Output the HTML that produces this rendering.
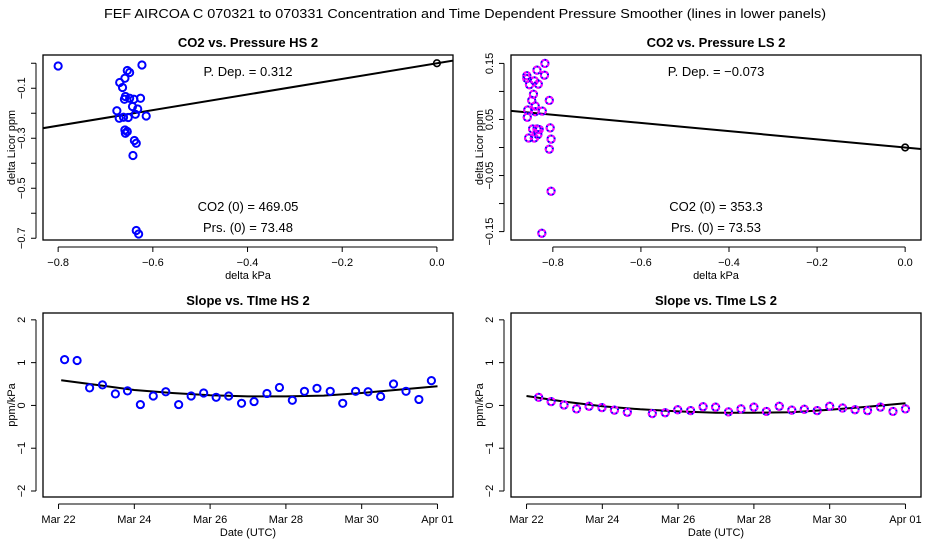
<!DOCTYPE html>
<html><head><meta charset="utf-8"><style>
body{margin:0;background:#fff}
svg{display:block;font-family:"Liberation Sans",Arial,sans-serif}
</style></head><body>
<svg id="c" width="936" height="540" viewBox="0 0 936 540">
<rect width="936" height="540" fill="#fff"/>
<text x="465" y="18" font-size="13" text-anchor="middle" textLength="722" lengthAdjust="spacingAndGlyphs">FEF   AIRCOA C   070321 to 070331   Concentration and Time Dependent Pressure Smoother (lines in lower panels)</text>
</svg>
<script>
// ---- Data: top-left (HS pressure) ----
const hsKpa=[-0.80,-0.623,-0.654,-0.649,-0.659,-0.67,-0.664,-0.658,-0.66,-0.649,-0.64,-0.626,-0.643,-0.632,-0.676,-0.637,-0.614,-0.671,-0.662,-0.652,-0.659,-0.658,-0.654,-0.639,-0.635,-0.642,-0.635,-0.63];
const hsPpm=[-0.011,-0.007,-0.029,-0.037,-0.06,-0.077,-0.097,-0.133,-0.144,-0.14,-0.144,-0.14,-0.173,-0.183,-0.19,-0.204,-0.211,-0.22,-0.216,-0.217,-0.267,-0.28,-0.273,-0.309,-0.32,-0.369,-0.669,-0.683];
const hsSlopeFit=0.312;
// ---- Data: top-right (LS pressure) ----
const lsKpa=[-0.818,-0.836,-0.819,-0.859,-0.859,-0.842,-0.853,-0.833,-0.844,-0.848,-0.808,-0.84,-0.857,-0.84,-0.824,-0.858,-0.846,-0.836,-0.831,-0.806,-0.834,-0.855,-0.842,-0.804,-0.808,-0.804,-0.825];
const lsPpm=[0.15,0.138,0.129,0.128,0.123,0.119,0.112,0.113,0.095,0.084,0.084,0.074,0.067,0.064,0.065,0.054,0.033,0.033,0.032,0.035,0.023,0.017,0.017,0.015,-0.003,-0.078,-0.153];
const lsSlopeFit=-0.073;
// ---- Data: bottom-left (HS slope vs time, days since Mar 22) ----
const hsDay=[0.16,0.49,0.82,1.16,1.5,1.82,2.16,2.5,2.83,3.17,3.5,3.83,4.16,4.49,4.83,5.16,5.5,5.83,6.17,6.49,6.82,7.17,7.5,7.84,8.17,8.5,8.84,9.17,9.51,9.84];
const hsSlope=[1.07,1.05,0.41,0.48,0.27,0.34,0.02,0.22,0.32,0.02,0.22,0.29,0.19,0.22,0.05,0.09,0.28,0.42,0.12,0.33,0.4,0.33,0.05,0.33,0.32,0.21,0.5,0.33,0.14,0.58];
const hsSmDay=[0.07,1,2,3,4,5,6,7,8,9,10];
const hsSmVal=[0.59,0.48,0.36,0.29,0.24,0.21,0.21,0.23,0.29,0.37,0.45];
// ---- Data: bottom-right (LS slope vs time) ----
const lsDay=[0.32,0.65,0.99,1.32,1.65,1.99,2.32,2.66,3.32,3.66,3.99,4.33,4.66,4.99,5.33,5.66,6.0,6.33,6.67,7.0,7.33,7.67,8.0,8.34,8.67,9.0,9.34,9.67,10.0];
const lsSlope=[0.19,0.09,0.01,-0.08,-0.02,-0.05,-0.11,-0.16,-0.19,-0.17,-0.1,-0.12,-0.03,-0.04,-0.15,-0.08,-0.04,-0.14,-0.02,-0.11,-0.09,-0.12,-0.02,-0.06,-0.1,-0.12,-0.04,-0.14,-0.08];
const lsSmDay=[0,1,2,3,4,5,6,7,8,9,10];
const lsSmVal=[0.22,0.09,-0.02,-0.09,-0.14,-0.17,-0.17,-0.16,-0.1,-0.03,0.05];
const dateLabels=["Mar 22","Mar 24","Mar 26","Mar 28","Mar 30","Apr 01"];

const svg=document.getElementById('c');
const NS='http://www.w3.org/2000/svg';
function mk(tag,at,parent){const e=document.createElementNS(NS,tag);for(const k in at)e.setAttribute(k,at[k]);(parent||svg).appendChild(e);return e;}
function txt(x,y,s,size,extra,parent){const t=mk('text',Object.assign({x:x,y:y,'font-size':size,'text-anchor':'middle'},extra||{}),parent);t.textContent=s;return t;}

function panel(o){
  const g=mk('g',{});
  
  
  const L=43+o.dx,R=453+o.dx,T=o.top,B=o.bot;
  const sx=v=>L+(v-o.xmin)/(o.xmax-o.xmin)*(R-L);
  const sy=v=>B-(v-o.ymin)/(o.ymax-o.ymin)*(B-T);
  const box=mk('rect',{x:L,y:T,width:R-L,height:B-T,fill:'none',stroke:'#000','stroke-width':1.3},g);
  
  
  const tt=txt((L+R)/2,T-8,o.title,13,{'font-weight':'bold'},g);
  
  
  // x axis
  const xa=o.xticks.map(sx);
  mk('line',{x1:xa[0],x2:xa[xa.length-1],y1:B+7,y2:B+7,stroke:'#000'},g);
  o.xticks.forEach((v,i)=>{const x=sx(v);mk('line',{x1:x,x2:x,y1:B+7,y2:B+12,stroke:'#000'},g);
    const t=txt(x,B+26,o.xlabels[i],11,{},g);
    
    });
  const xl=txt((L+R)/2,B+39,o.xtitle,11,{},g);
  
  
  // y axis
  const ya=o.yticks.map(sy);
  mk('line',{x1:L-7,x2:L-7,y1:ya[0],y2:ya[ya.length-1],stroke:'#000'},g);
  o.yticks.forEach((v,i)=>{const y=sy(v);mk('line',{x1:L-12,x2:L-7,y1:y,y2:y,stroke:'#000'},g);
    if(o.ylabels[i]!==''){const t=txt(0,0,o.ylabels[i],11,{transform:`translate(${L-18},${y}) rotate(-90)`},g);
    
    }});
  const yl=txt(0,0,o.ytitle,11,{transform:`translate(${L-32+4},${(T+B)/2}) rotate(-90)`},g);
  
  
  // clip
  const cid='clip'+o.name;
  const cp=mk('clipPath',{id:cid},g);mk('rect',{x:L,y:T,width:R-L,height:B-T},cp);
  const pg=mk('g',{'clip-path':`url(#${cid})`},g);
  // line
  if(o.lineX){
    const d=o.lineX.map((x,i)=>(i?'L':'M')+sx(x).toFixed(1)+','+sy(o.lineY[i]).toFixed(1)).join('');
    const p=mk('path',{d:d,fill:'none',stroke:'#000','stroke-width':2},pg);
    
    
  }
  o.xs.forEach((x,i)=>{
    const c=mk('circle',{cx:sx(x),cy:sy(o.ys[i]),r:3.6,fill:'none',stroke:'#0000ff','stroke-width':2},pg);
    
    
    if(o.magenta){const m=mk('circle',{cx:sx(x),cy:sy(o.ys[i]),r:3.6,fill:'none',stroke:'#ff00ff','stroke-width':2,'stroke-dasharray':'3 1.5'},pg);
      
      }
  });
  if(o.origin){const c=mk('circle',{cx:sx(0),cy:sy(0),r:3.3,fill:'none',stroke:'#000','stroke-width':1.6},pg);
    
    }
  (o.notes||[]).forEach(n=>{const t=txt(L+205,n[1],n[0],13,{},g);
    
    });
}

panel({name:'co2-vs-pressure-hs',dx:0,top:55,bot:240,xmin:-0.832,xmax:0.034,ymin:-0.707,ymax:0.033,
  title:'CO2 vs. Pressure HS 2',xtitle:'delta kPa',ytitle:'delta Licor ppm',
  xticks:[-0.8,-0.6,-0.4,-0.2,0],xlabels:['\u22120.8','\u22120.6','\u22120.4','\u22120.2','0.0'],
  yticks:[0,-0.1,-0.2,-0.3,-0.4,-0.5,-0.6,-0.7],ylabels:['','\u22120.1','','\u22120.3','','\u22120.5','','\u22120.7'],
  xs:hsKpa,ys:hsPpm,lineX:[-1,0.1],lineY:[-hsSlopeFit,0.1*hsSlopeFit],origin:true,
  notes:[['P. Dep. =  0.312',76],['CO2 (0) =  469.05',211],['Prs. (0) =  73.48',232]]});
panel({name:'co2-vs-pressure-ls',dx:468,top:55,bot:240,xmin:-0.895,xmax:0.036,ymin:-0.165,ymax:0.165,
  title:'CO2 vs. Pressure LS 2',xtitle:'delta kPa',ytitle:'delta Licor ppm',
  xticks:[-0.8,-0.6,-0.4,-0.2,0],xlabels:['\u22120.8','\u22120.6','\u22120.4','\u22120.2','0.0'],
  yticks:[0.15,0.1,0.05,0,-0.05,-0.1,-0.15],ylabels:['0.15','','0.05','','\u22120.05','','\u22120.15'],
  xs:lsKpa,ys:lsPpm,lineX:[-1,0.1],lineY:[-lsSlopeFit,0.1*lsSlopeFit],origin:true,magenta:true,
  notes:[['P. Dep. =  \u22120.073',76],['CO2 (0) =  353.3',211],['Prs. (0) =  73.53',232]]});
panel({name:'slope-vs-time-hs',dx:0,top:313,bot:497,xmin:-0.41,xmax:10.41,ymin:-2.14,ymax:2.16,
  title:'Slope vs. TIme HS 2',xtitle:'Date (UTC)',ytitle:'ppm/kPa',
  xticks:[0,2,4,6,8,10],xlabels:dateLabels,yticks:[2,1,0,-1,-2],ylabels:['2','1','0','\u22121','\u22122'],
  xs:hsDay,ys:hsSlope,lineX:hsSmDay,lineY:hsSmVal});
panel({name:'slope-vs-time-ls',dx:468,top:313,bot:497,xmin:-0.41,xmax:10.41,ymin:-2.14,ymax:2.16,
  title:'Slope vs. TIme LS 2',xtitle:'Date (UTC)',ytitle:'ppm/kPa',
  xticks:[0,2,4,6,8,10],xlabels:dateLabels,yticks:[2,1,0,-1,-2],ylabels:['2','1','0','\u22121','\u22122'],
  xs:lsDay,ys:lsSlope,lineX:lsSmDay,lineY:lsSmVal,magenta:true});
</script>
</body></html>
